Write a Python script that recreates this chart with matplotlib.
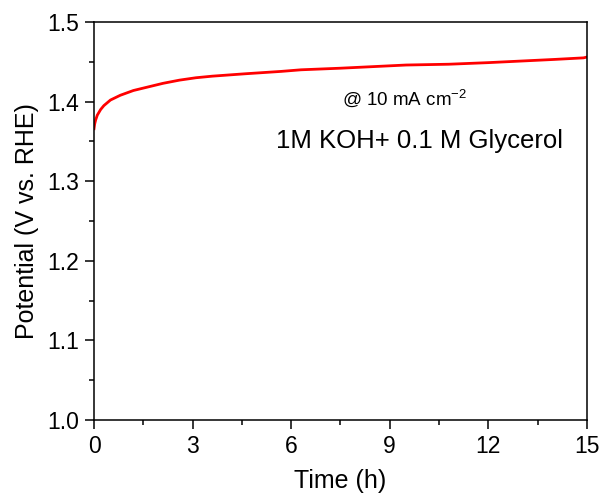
import matplotlib.pyplot as plt
from matplotlib.ticker import MultipleLocator

plt.rcParams['font.family'] = ['Liberation Sans', 'DejaVu Sans']
plt.rcParams['mathtext.fontset'] = 'custom'
plt.rcParams['mathtext.rm'] = 'Liberation Sans'
plt.rcParams['mathtext.default'] = 'regular'

# data
time_h = [0.0, 0.02, 0.05, 0.1, 0.2, 0.3, 0.5, 0.8, 1.2, 1.6, 2.1, 2.6, 3.1, 3.6, 4.6, 5.7,
          6.3, 7.5, 8.5, 9.5, 10.8, 12.0, 13.0, 14.0, 14.9, 15.0]
potential = [1.366, 1.372, 1.377, 1.383, 1.390, 1.395, 1.402, 1.408, 1.414, 1.418, 1.423,
             1.427, 1.430, 1.432, 1.435, 1.438, 1.440, 1.442, 1.444, 1.446, 1.447,
             1.449, 1.451, 1.453, 1.455, 1.456]

fig = plt.figure(figsize=(6.05, 5.01), dpi=100)
ax = fig.add_axes([0.1554, 0.1617, 0.8146, 0.7943])
ax.plot(time_h, potential, color='red', lw=2)

ax.set_xlim(0, 15)
ax.set_ylim(1.0, 1.5)
ax.xaxis.set_major_locator(MultipleLocator(3))
ax.xaxis.set_minor_locator(MultipleLocator(1.5))
ax.yaxis.set_major_locator(MultipleLocator(0.1))
ax.yaxis.set_minor_locator(MultipleLocator(0.05))
ax.tick_params(which='both', direction='out', labelsize=16.5, width=1.1, pad=4)
ax.tick_params(which='major', length=6.5)
ax.tick_params(which='minor', length=3.3)
for s in ax.spines.values():
    s.set_linewidth(1.1)

ax.set_xlabel('Time (h)', fontsize=18, labelpad=8)
ax.set_ylabel('Potential (V vs. RHE)', fontsize=18, labelpad=6)

ax.text(9.46, 1.404, '@ 10 mA cm$^{-2}$', fontsize=13.5, ha='center', va='center')
ax.text(9.92, 1.350, '1M KOH+ 0.1 M Glycerol', fontsize=18.5, ha='center', va='center')

fig.savefig('out.png', dpi=100)
